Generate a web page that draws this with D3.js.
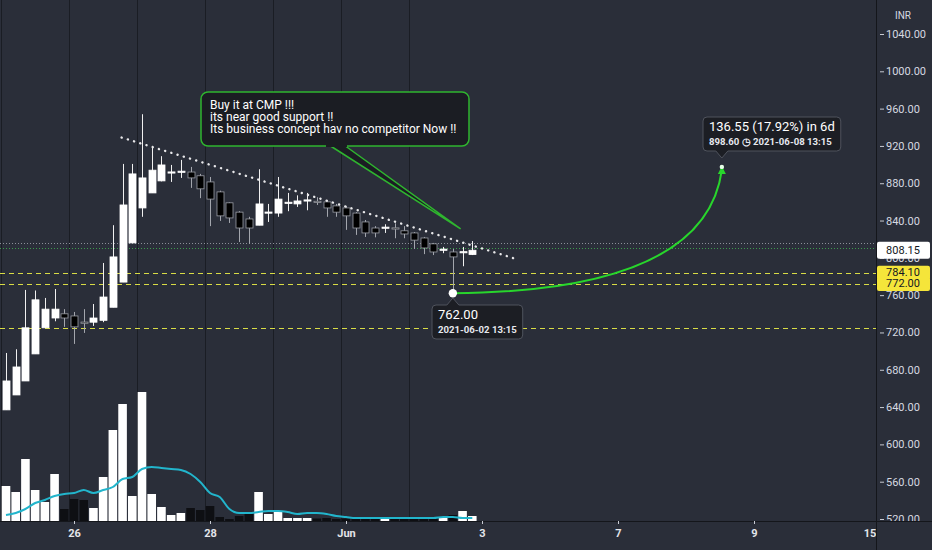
<!DOCTYPE html>
<html><head><meta charset="utf-8">
<script src="https://cdn.jsdelivr.net/npm/d3@7"></script>
<style>html,body{margin:0;padding:0;background:#2a2e39;overflow:hidden}svg{display:block}</style>
</head><body>
<svg id="c" width="932" height="550"></svg>
<script>
// ---------------- DATA ----------------
// hourly candles, 25 May 2021 09:15 -> 02 Jun 2021 15:15 (7 per session)
const sessions = ["25 May","26 May","27 May","28 May","31 May","01 Jun","02 Jun"];
const hours = ["09:15","10:15","11:15","12:15","13:15","14:15","15:15"];
const opens  = [637,653,668,697,725,735.5,740, 737.7,730.5,731,733,747,774,816, 853.5,869.6,882.5,891,892,892,888, 881.4,870.7,859,849,841.7,835,848, 848,858,857.8,861,860,860,855.7, 853.5,848,838.5,832,832,831.5,829, 826.7,821.3,815,808.5,806.3,805.5,803.5];
const highs  = [698,702,765.6,765,757,766.6,745, 742,745,750.5,794.5,835,900.7,900.7, 954,920,909,899.6,905,897.5,890, 886.7,872,859.5,850,844,895,857.8, 886.7,869.6,867,869.6,865,862,857.8, 855.7,849,840.6,834,836,837,834, 827.7,822.4,816,811.7,809.5,811.7,818];
const lows   = [637,653,668,697,725,732,726, 707.7,719.5,727,731,747,774,816, 844,869.6,882,881.4,885.7,875,864, 834,839.6,837.4,817,815,835,838.5, 844,850,854.6,851,856.7,844,844, 830,824.6,822.4,822,826.7,821,821, 809.5,804,803,805,762,791,803];
const closes = [668,683,725,755,745,745,735.5, 726,730,735.5,758,801,856.7,890, 885.7,894,899.6,891.5,892.3,885.7,874, 863,845,842.8,832,832,857.8,848.5, 863,859,861,861.5,859.8,853.5,849, 845,832,826.7,826.7,832.3,831,825.6, 819,810.6,806.3,808.7,801,806,808.15];
const volumes = [350,290,620,310,190,470,120, 220,210,130,440,910,1170,250, 1290,270,140,60,80,130,110, 150,40,20,50,70,290,70, 90,30,30,30,25,30,20, 25,30,35,25,20,30,20, 25,20,35,30,60,100,50];
const volumeMA = [60,80,120,180,210,250,270, 280,310,280,310,340,420,440, 520,540,530,520,510,470,390, 280,240,120,80,80,90,100, 100,90,70,80,80,70,50, 40,30,30,30,30,30,30, 30,30,30,40,40,30,30];
const priceTicks = [520,560,600,640,680,720,760,800,840,880,920,960,1000,1040];
const timeTickIndex = [7,21,35,49,63,77,89.7];
const timeTickLabels = ["26","28","Jun","3","7","9","15:15"];
const supportLevels = [784.10, 772.00, 725.0];
const labelledLevels = [784.10, 772.00];
const lastPrice = 808.15;
const refLines = [816.0, 811.0];
const trendStart = [11.9, 929], trendEnd = [52.6, 798.5];
const noteLines = ["Buy it at CMP !!!","its near good support !!","Its business concept hav no competitor Now !!"];
const measureFrom = {i:46, p:762.00, label:"2021-06-02 13:15"};
const measureTo = {i:74, p:898.60, label:"2021-06-08  13:15"};
const measureText = "136.55 (17.92%) in 6d";

// ---------------- SETUP ----------------
const W=932,H=550,plotR=876,plotB=521;
const BG="#2a2e39";
const svg=d3.select("#c");
const x=d3.scaleLinear().domain([0,77]).range([6,754]);
const y=d3.scaleLinear().domain([520,1040]).range([519,34]);
const yv=d3.scaleLinear().domain([0,1000]).range([plotB,plotB-100]);
const FONT="Roboto, 'Noto Sans', sans-serif";

svg.append("rect").attr("width",W).attr("height",H).attr("fill",BG);
const defs=svg.append("defs");
defs.append("clipPath").attr("id","plot").append("rect").attr("x",0).attr("y",0).attr("width",plotR).attr("height",plotB);
defs.append("clipPath").attr("id","raxis").append("rect").attr("x",plotR).attr("y",0).attr("width",W-plotR).attr("height",plotB);
defs.append("clipPath").attr("id","baxis").append("rect").attr("x",0).attr("y",plotB).attr("width",plotR).attr("height",H-plotB);

const plot=svg.append("g").attr("clip-path","url(#plot)");
const n=opens.length;
const idx=d3.range(n);

// session separators
plot.selectAll("line.sep").data(sessions).join("line")
  .attr("x1",(d,k)=>Math.round(x(k*7-0.5))+0.5).attr("x2",(d,k)=>Math.round(x(k*7-0.5))+0.5)
  .attr("y1",0).attr("y2",plotB).attr("stroke","#1a1d24").attr("stroke-width",1);

// volume
plot.selectAll("rect.vol").data(idx).join("rect")
  .attr("x",i=>x(i)-4.3).attr("width",8.6)
  .attr("y",i=>yv(volumes[i])).attr("height",i=>yv(0)-yv(volumes[i]))
  .attr("fill",i=>closes[i]>=opens[i]?"#ffffff":"#0e0f13");
plot.append("path").datum(idx)
  .attr("d",d3.line().x(i=>x(i)).y(i=>yv(volumeMA[i])).curve(d3.curveMonotoneX))
  .attr("fill","none").attr("stroke","#22b5cc").attr("stroke-width",2);

// horizontal support lines
plot.selectAll("line.sup").data(supportLevels).join("line")
  .attr("x1",0).attr("x2",plotR).attr("y1",d=>Math.round(y(d))+0.5).attr("y2",d=>Math.round(y(d))+0.5)
  .attr("stroke","#d9dc45").attr("stroke-width",1.2).attr("stroke-dasharray","5,4");
plot.selectAll("line.ref").data(refLines).join("line")
  .attr("x1",0).attr("x2",plotR).attr("y1",d=>Math.round(y(d))+0.5).attr("y2",d=>Math.round(y(d))+0.5)
  .attr("stroke",(d,k)=>k===0?"#8b8f99":"#3f9a4e").attr("stroke-width",1).attr("stroke-dasharray","1,2");

// candles
const cg=plot.append("g");
idx.forEach(i=>{
  const up=closes[i]>=opens[i];
  const cx=Math.round(x(i))+0.5;
  cg.append("line").attr("x1",cx).attr("x2",cx).attr("y1",y(highs[i])).attr("y2",y(lows[i]))
    .attr("stroke",up?"#f0f0f0":"#a3a6ad").attr("stroke-width",1);
  const top=y(Math.max(opens[i],closes[i])), bot=y(Math.min(opens[i],closes[i]));
  const h=Math.max(1.2,bot-top);
  cg.append("rect").attr("x",cx-3.5).attr("width",7).attr("y",h<=1.2?top-0.6:top).attr("height",h)
    .attr("fill",up?"#ffffff":"#000000").attr("stroke",up?"#ffffff":"#9a9da5").attr("stroke-width",0.8);
});

// trend line (dotted)
plot.append("line").attr("x1",x(trendStart[0])).attr("y1",y(trendStart[1]))
  .attr("x2",x(trendEnd[0])).attr("y2",y(trendEnd[1]))
  .attr("stroke","#e8e8ea").attr("stroke-width",2.4).attr("stroke-linecap","round").attr("stroke-dasharray","0.1,6.4");

// callout note
const note=plot.append("g");
const bx=201,byTop=92,bw=268,bh=54;
const tip=[x(46.8),y(831)];
note.append("path").attr("d",`M${329},${byTop+bh-1} L${tip[0]},${tip[1]} L${344},${byTop+bh-1}`)
  .attr("fill","#1b1d23").attr("stroke","#2fb52f").attr("stroke-width",1.5);
note.append("rect").attr("x",bx).attr("y",byTop).attr("width",bw).attr("height",bh).attr("rx",7)
  .attr("fill","#1b1d23").attr("stroke","#2fb52f").attr("stroke-width",1.5);
note.append("rect").attr("x",326).attr("y",byTop+bh-3).attr("width",21).attr("height",4).attr("fill","#1b1d23");
note.selectAll("text").data(noteLines).join("text")
  .attr("x",bx+9).attr("y",(d,k)=>byTop+13.5+k*12.4).attr("dominant-baseline","middle")
  .attr("fill","#ffffff").attr("font-family",FONT).attr("font-size",12).text(d=>d);

// measurement curve
const p0=[x(measureFrom.i),y(measureFrom.p)], p1=[x(measureTo.i)-3,y(measureTo.p)];
const ctrl=[x(72),y(764)];
plot.append("path").attr("d",`M${p0[0]},${p0[1]} Q${ctrl[0]},${ctrl[1]} ${p1[0]},${p1[1]+4}`)
  .attr("fill","none").attr("stroke","#28d62c").attr("stroke-width",2);
plot.append("path").attr("d",`M${p1[0]},${p1[1]} L${p1[0]-4},${p1[1]+8} L${p1[0]+4},${p1[1]+8} Z`).attr("fill","#28d62c");
plot.append("circle").attr("cx",p1[0]).attr("cy",p1[1]+1).attr("r",2.2).attr("fill","#e8ffe8");
plot.append("circle").attr("cx",p0[0]).attr("cy",p0[1]).attr("r",4.2).attr("fill","#ffffff");

function tooltip(g,left,top,l1,l2,size1,pointerTop,pointerX){
  const t1=g.append("text").attr("x",left+6).attr("y",top+11).attr("dominant-baseline","middle")
    .attr("fill","#ffffff").attr("font-family",FONT).attr("font-size",size1).text(l1);
  const t2=g.append("text").attr("x",left+6).attr("y",top+25).attr("dominant-baseline","middle")
    .attr("fill","#e6e8ee").attr("font-family",FONT).attr("font-size",9.6).attr("font-weight","bold").text(l2);
  const w=Math.max(t1.node().getComputedTextLength(),t2.node().getComputedTextLength())+12;
  const h=34;
  let d;
  if(pointerTop){
    d=`M${left+4},${top} L${pointerX-6},${top} L${pointerX},${top-7} L${pointerX+6},${top} L${left+w-4},${top} Q${left+w},${top} ${left+w},${top+4} L${left+w},${top+h-4} Q${left+w},${top+h} ${left+w-4},${top+h} L${left+4},${top+h} Q${left},${top+h} ${left},${top+h-4} L${left},${top+4} Q${left},${top} ${left+4},${top} Z`;
  } else {
    d=`M${left+4},${top} L${left+w-4},${top} Q${left+w},${top} ${left+w},${top+4} L${left+w},${top+h-4} Q${left+w},${top+h} ${left+w-4},${top+h} L${pointerX+6},${top+h} L${pointerX},${top+h+7} L${pointerX-6},${top+h} L${left+4},${top+h} Q${left},${top+h} ${left},${top+h-4} L${left},${top+4} Q${left},${top} ${left+4},${top} Z`;
  }
  g.insert("path","text").attr("d",d).attr("fill","#1c1e24").attr("stroke","#4f535d").attr("stroke-width",1);
}
tooltip(plot.append("g"),432,305,measureFrom.p.toFixed(2),measureFrom.label,13,true,p0[0]);
tooltip(plot.append("g"),703,117,measureText,measureTo.p.toFixed(2)+" \u25F7 "+measureTo.label,13,false,p1[0]);

// ---------------- AXES ----------------
svg.append("line").attr("x1",plotR+0.5).attr("x2",plotR+0.5).attr("y1",0).attr("y2",H).attr("stroke","#14161b");
svg.append("line").attr("x1",0).attr("x2",W).attr("y1",plotB+0.5).attr("y2",plotB+0.5).attr("stroke","#14161b");

const ra=svg.append("g").attr("clip-path","url(#raxis)");
const yAxis=d3.axisRight(y).tickValues(priceTicks).tickSize(4).tickPadding(2).tickFormat(d3.format(".2f"));
const rg=ra.append("g").attr("transform",`translate(${plotR+4},0)`).call(yAxis);
rg.select(".domain").remove();
rg.selectAll(".tick line").attr("stroke","#c8cbd3");
rg.selectAll(".tick text").attr("fill","#d6d9e0").attr("font-family",FONT).attr("font-size",11);
ra.append("text").attr("x",903).attr("y",16).attr("text-anchor","middle").attr("dominant-baseline","middle")
  .attr("fill","#d6d9e0").attr("font-family",FONT).attr("font-size",10).text("INR");

// price labels
function priceLabel(p,bg,fg,h){
  const g=ra.append("g");
  const cy=y(p);
  g.append("rect").attr("x",plotR+1).attr("y",cy-h/2).attr("width",W-plotR-3).attr("height",h).attr("rx",2).attr("fill",bg);
  g.append("text").attr("x",903).attr("y",cy+0.5).attr("text-anchor","middle").attr("dominant-baseline","middle")
    .attr("fill",fg).attr("font-family",FONT).attr("font-size",11).text(p.toFixed(2));
}
priceLabel(lastPrice,"#ffffff","#131722",17);
labelledLevels.forEach(p=>priceLabel(p,"#f5e53a","#131722",14));

const ba=svg.append("g").attr("clip-path","url(#baxis)");
const xAxis=d3.axisBottom(x).tickValues(timeTickIndex).tickSize(3).tickPadding(5).tickFormat((d,k)=>timeTickLabels[k]);
const bg=ba.append("g").attr("transform",`translate(0,${plotB})`).call(xAxis);
bg.select(".domain").remove();
bg.selectAll(".tick line").attr("stroke","#c8cbd3");
bg.selectAll(".tick text").attr("fill","#e3e5ea").attr("font-family",FONT).attr("font-size",11).attr("font-weight","bold");
</script>
</body></html>
